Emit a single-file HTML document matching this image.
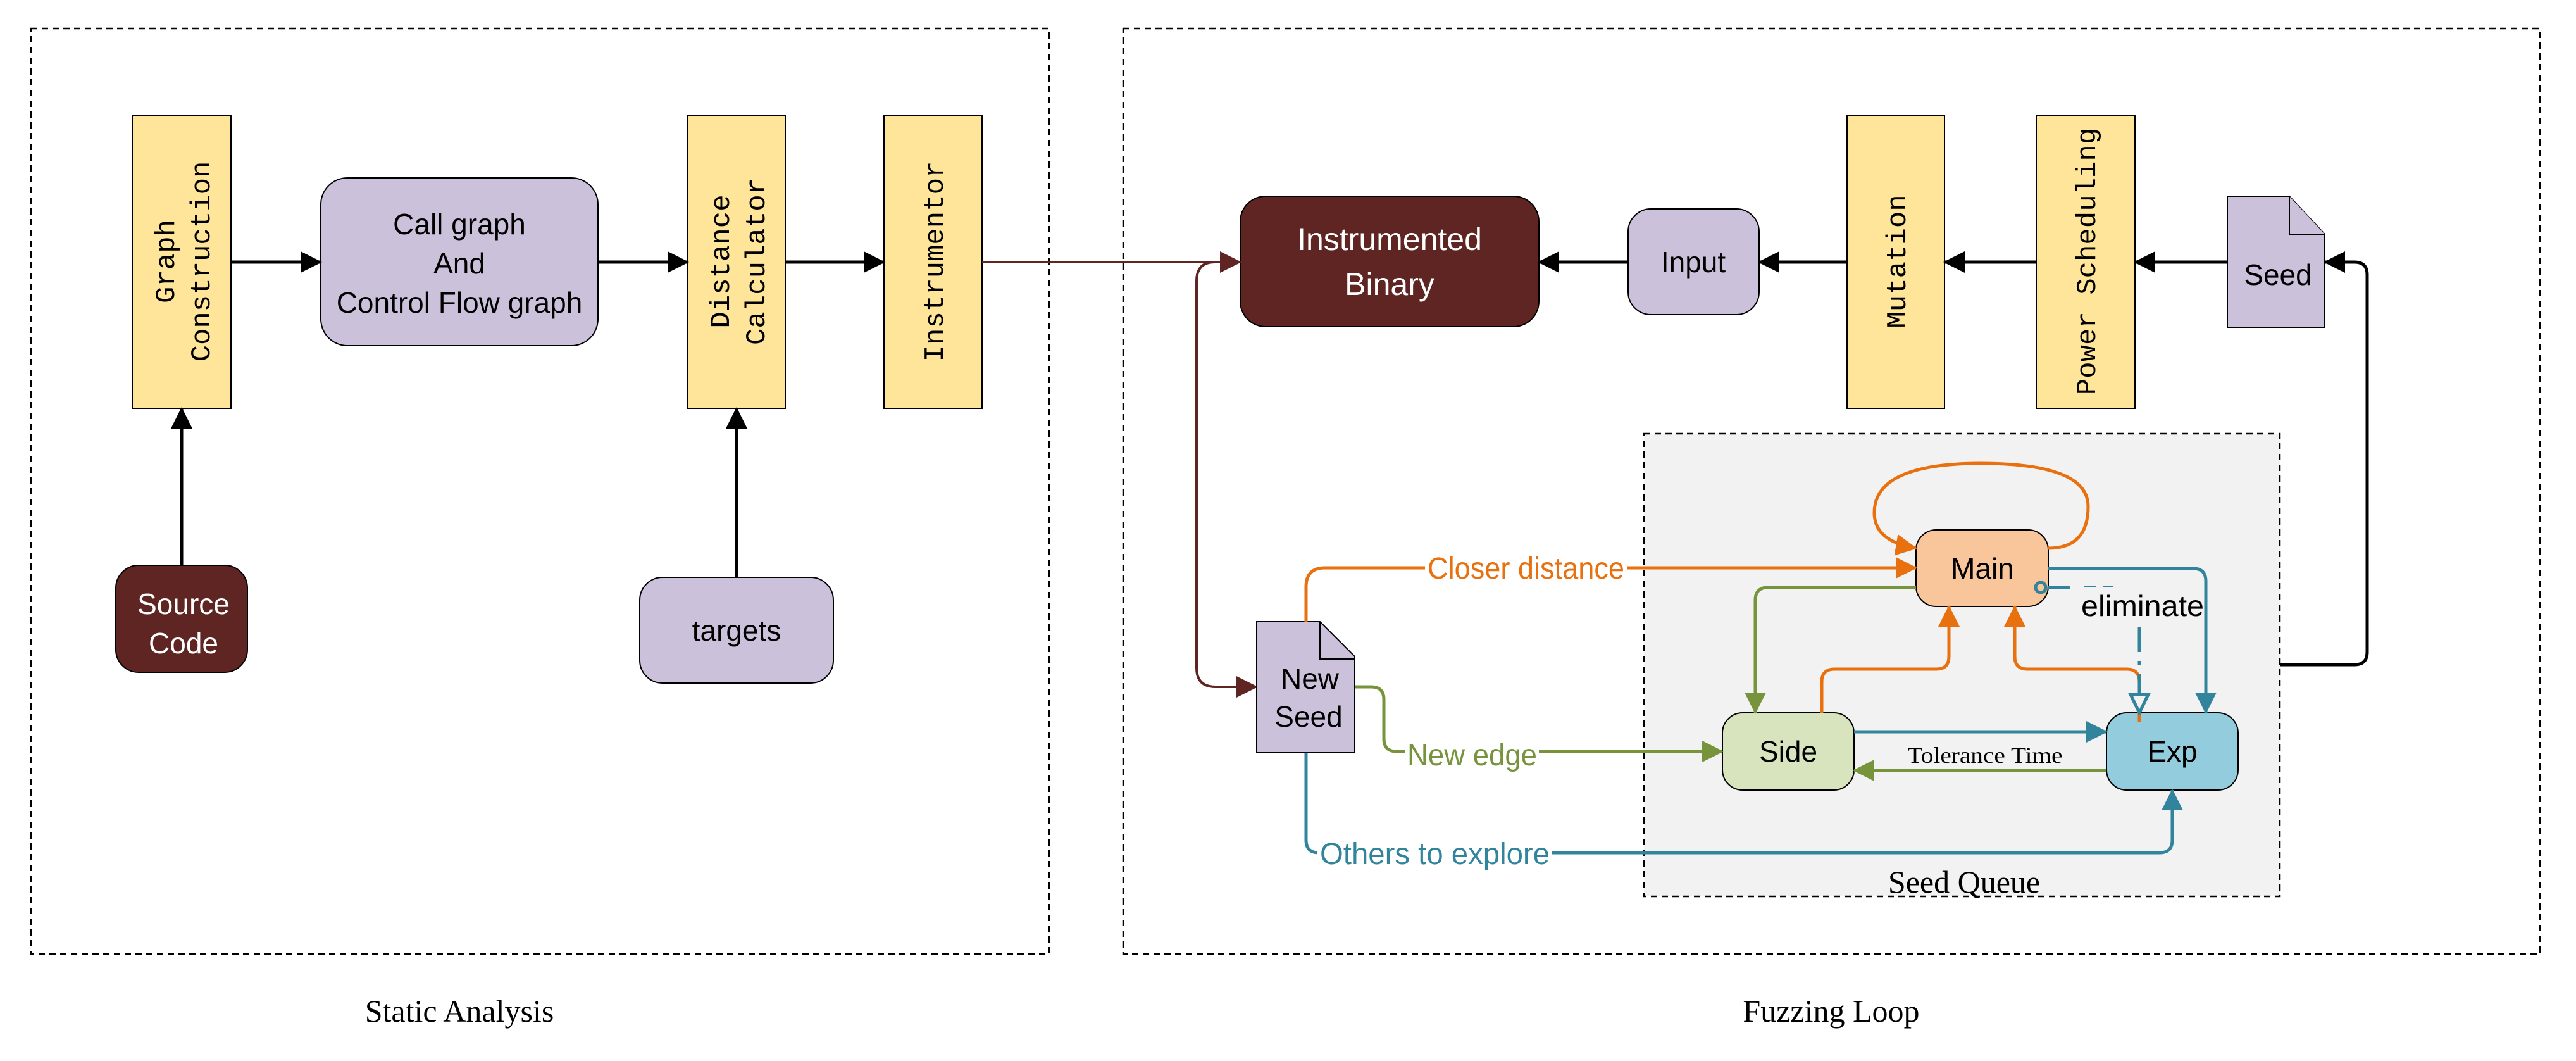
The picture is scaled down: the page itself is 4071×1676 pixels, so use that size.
<!DOCTYPE html>
<html><head><meta charset="utf-8"><style>
html,body{margin:0;padding:0;background:#fff;}
svg{display:block;}
.c{font-family:"Liberation Sans Narrow","Liberation Sans",sans-serif;}
.m{font-family:"Liberation Mono",monospace;font-size:44px;}
.s{font-family:"Liberation Serif",serif;}
</style></head><body>
<svg width="4071" height="1676" viewBox="0 0 4071 1676" xmlns="http://www.w3.org/2000/svg">
<defs>
<marker id="ak" markerUnits="userSpaceOnUse" markerWidth="34" markerHeight="34" refX="32" refY="17" orient="auto"><path d="M0,0 L34,17 L0,34 Z" fill="#000"/></marker>
<marker id="ab" markerUnits="userSpaceOnUse" markerWidth="34" markerHeight="34" refX="32" refY="17" orient="auto"><path d="M0,0 L34,17 L0,34 Z" fill="#5f2522"/></marker>
<marker id="ao" markerUnits="userSpaceOnUse" markerWidth="34" markerHeight="34" refX="32" refY="17" orient="auto"><path d="M0,0 L34,17 L0,34 Z" fill="#e8700f"/></marker>
<marker id="ag" markerUnits="userSpaceOnUse" markerWidth="34" markerHeight="34" refX="32" refY="17" orient="auto"><path d="M0,0 L34,17 L0,34 Z" fill="#77933c"/></marker>
<marker id="at" markerUnits="userSpaceOnUse" markerWidth="34" markerHeight="34" refX="32" refY="17" orient="auto"><path d="M0,0 L34,17 L0,34 Z" fill="#31849b"/></marker>
<marker id="ah" markerUnits="userSpaceOnUse" markerWidth="36" markerHeight="36" refX="32" refY="18" orient="auto"><path d="M3,4 L32,18 L3,32 Z" fill="#f2f2f2" stroke="#31849b" stroke-width="5"/></marker>
</defs>

<rect x="49" y="45" width="1609" height="1462" fill="none" stroke="#000" stroke-width="2.5" stroke-dasharray="10,7"/>
<rect x="1775" y="45" width="2239" height="1462" fill="none" stroke="#000" stroke-width="2.5" stroke-dasharray="10,7"/>
<rect x="2598" y="685" width="1005" height="731" fill="#f2f2f2" stroke="#000" stroke-width="2.5" stroke-dasharray="10,7"/>

<text class="s" x="726" y="1614" font-size="50" text-anchor="middle">Static Analysis</text>
<text class="s" x="2894" y="1614" font-size="50" text-anchor="middle">Fuzzing Loop</text>
<text class="s" x="3104" y="1410" font-size="50" text-anchor="middle">Seed Queue</text>

<rect x="209" y="182" width="156" height="463" fill="#fee59a" stroke="#000" stroke-width="2"/>
<text class="m" transform="translate(287,413) rotate(-90)" text-anchor="middle" fill="#000"><tspan x="0" y="-12">Graph</tspan><tspan x="0" y="44">Construction</tspan></text>
<rect x="507" y="281" width="438" height="265" rx="42" fill="#ccc1da" stroke="#000" stroke-width="2"/>
<text class="c" font-size="46" text-anchor="middle" x="726"><tspan x="726" y="370">Call graph</tspan><tspan x="726" y="432">And</tspan><tspan x="726" y="494">Control Flow graph</tspan></text>
<rect x="1087" y="182" width="154" height="463" fill="#fee59a" stroke="#000" stroke-width="2"/>
<text class="m" transform="translate(1164,413) rotate(-90)" text-anchor="middle"><tspan x="0" y="-12">Distance</tspan><tspan x="0" y="44">Calculator</tspan></text>
<rect x="1397" y="182" width="155" height="463" fill="#fee59a" stroke="#000" stroke-width="2"/>
<text class="m" transform="translate(1475,413) rotate(-90)" text-anchor="middle" y="15">Instrumentor</text>
<rect x="183" y="893" width="208" height="169" rx="36" fill="#5f2522" stroke="#000" stroke-width="2"/>
<text class="c" font-size="46" fill="#fff" text-anchor="middle"><tspan x="290" y="970">Source</tspan><tspan x="290" y="1032">Code</tspan></text>
<rect x="1011" y="912" width="306" height="167" rx="36" fill="#ccc1da" stroke="#000" stroke-width="2"/>
<text class="c" font-size="46" text-anchor="middle" x="1164" y="1012">targets</text>

<g stroke="#000" stroke-width="5" fill="none">
<line x1="365" y1="414" x2="507" y2="414" marker-end="url(#ak)"/>
<line x1="945" y1="414" x2="1087" y2="414" marker-end="url(#ak)"/>
<line x1="1241" y1="414" x2="1397" y2="414" marker-end="url(#ak)"/>
<line x1="287" y1="893" x2="287" y2="645" marker-end="url(#ak)"/>
<line x1="1164" y1="912" x2="1164" y2="645" marker-end="url(#ak)"/>
</g>

<rect x="1960" y="310" width="472" height="206" rx="40" fill="#5f2522" stroke="#000" stroke-width="2"/>
<text class="c" font-size="50" fill="#fff" text-anchor="middle"><tspan x="2196" y="395">Instrumented</tspan><tspan x="2196" y="466">Binary</tspan></text>
<rect x="2573" y="330" width="207" height="167" rx="36" fill="#ccc1da" stroke="#000" stroke-width="2"/>
<text class="c" font-size="46" text-anchor="middle" x="2676" y="430">Input</text>
<rect x="2919" y="182" width="154" height="463" fill="#fee59a" stroke="#000" stroke-width="2"/>
<text class="m" transform="translate(2996,413) rotate(-90)" text-anchor="middle" y="15">Mutation</text>
<rect x="3218" y="182" width="156" height="463" fill="#fee59a" stroke="#000" stroke-width="2"/>
<text class="m" transform="translate(3296,413) rotate(-90)" text-anchor="middle" y="15">Power Scheduling</text>
<path d="M3520,310 L3618,310 L3674,370 L3674,517 L3520,517 Z" fill="#ccc1da" stroke="#000" stroke-width="2"/>
<path d="M3618,310 L3618,370 L3674,370" fill="#ccc1da" stroke="#000" stroke-width="2"/>
<text class="c" font-size="46" text-anchor="middle" x="3600" y="450">Seed</text>

<g stroke="#000" stroke-width="5" fill="none">
<line x1="2573" y1="414" x2="2432" y2="414" marker-end="url(#ak)"/>
<line x1="2919" y1="414" x2="2780" y2="414" marker-end="url(#ak)"/>
<line x1="3218" y1="414" x2="3073" y2="414" marker-end="url(#ak)"/>
<line x1="3520" y1="414" x2="3374" y2="414" marker-end="url(#ak)"/>
<path d="M3603,1050 L3721,1050 Q3741,1050 3741,1030 L3741,434 Q3741,414 3721,414 L3674,414" marker-end="url(#ak)"/>
</g>

<g stroke="#5f2522" stroke-width="4" fill="none">
<line x1="1552" y1="414" x2="1960" y2="414" marker-end="url(#ab)"/>
<path d="M1920,414 Q1891,414 1891,444 L1891,1055 Q1891,1085 1921,1085 L1986,1085" marker-end="url(#ab)"/>
</g>

<path d="M1986,982 L2086,982 L2141,1037 L2141,1189 L1986,1189 Z" fill="#ccc1da" stroke="#000" stroke-width="2"/>
<path d="M2086,982 L2086,1041 L2141,1041" fill="none" stroke="#000" stroke-width="2"/>
<text class="c" font-size="46" text-anchor="middle"><tspan x="2070" y="1088">New</tspan><tspan x="2068" y="1148">Seed</tspan></text>

<rect x="3028" y="837" width="209" height="121" rx="32" fill="#f9c59b" stroke="#000" stroke-width="2"/>
<text class="c" font-size="46" text-anchor="middle" x="3133" y="914">Main</text>
<rect x="2722" y="1126" width="208" height="122" rx="32" fill="#d7e4bd" stroke="#000" stroke-width="2"/>
<text class="c" font-size="46" text-anchor="middle" x="2826" y="1203">Side</text>
<rect x="3329" y="1126" width="208" height="122" rx="32" fill="#93cddd" stroke="#000" stroke-width="2"/>
<text class="c" font-size="46" text-anchor="middle" x="3433" y="1203">Exp</text>

<g stroke="#e8700f" stroke-width="5" fill="none">
<path d="M2064,982 L2064,927 Q2064,897 2094,897 L3028,897" marker-end="url(#ao)"/>
<path d="M3237,866 Q3300,866 3300,800 Q3300,732 3130,732 Q2962,732 2962,810 Q2962,855 3028,866" marker-end="url(#ao)"/>
<path d="M2879,1126 L2879,1077 Q2879,1057 2899,1057 L3060,1057 Q3080,1057 3080,1037 L3080,958" marker-end="url(#ao)"/>
<path d="M3381,1140 L3381,1077 Q3381,1057 3361,1057 L3204,1057 Q3184,1057 3184,1037 L3184,958" marker-end="url(#ao)"/>
</g>
<rect x="2252" y="870" width="320" height="54" fill="#fff"/>
<text class="c" font-size="48" fill="#e8700f" x="2256" y="914" textLength="311" lengthAdjust="spacingAndGlyphs">Closer distance</text>

<g stroke="#77933c" stroke-width="5" fill="none">
<path d="M2141,1085 L2167,1085 Q2187,1085 2187,1105 L2187,1167 Q2187,1187 2207,1187 L2722,1187" marker-end="url(#ag)"/>
<path d="M3028,928 L2794,928 Q2774,928 2774,948 L2774,1126" marker-end="url(#ag)"/>
<line x1="3329" y1="1217" x2="2930" y2="1217" marker-end="url(#ag)"/>
</g>
<rect x="2220" y="1160" width="212" height="60" fill="#fff"/>
<text class="c" font-size="48" fill="#77933c" x="2224" y="1209" textLength="205" lengthAdjust="spacingAndGlyphs">New edge</text>

<g stroke="#31849b" stroke-width="5" fill="none">
<path d="M2064,1189 L2064,1327 Q2064,1347 2084,1347 L3413,1347 Q3433,1347 3433,1327 L3433,1248" marker-end="url(#at)"/>
<path d="M3237,898 L3466,898 Q3486,898 3486,918 L3486,1126" marker-end="url(#at)"/>
<line x1="2930" y1="1156" x2="3329" y2="1156" marker-end="url(#at)"/>
<line x1="3237" y1="928" x2="3272" y2="928"/>
<line x1="3293" y1="927" x2="3340" y2="927" stroke-width="2" stroke-dasharray="20,10"/>
<path d="M3381,990 L3381,1126" stroke-dasharray="40,14,6,14" marker-end="url(#ah)"/>
<circle cx="3225" cy="928" r="8" fill="#f9c59b"/>
</g>
<rect x="2082" y="1320" width="370" height="58" fill="#fff"/>
<text class="c" font-size="48" fill="#31849b" x="2086" y="1365" textLength="363" lengthAdjust="spacingAndGlyphs">Others to explore</text>

<text class="c" font-size="46" x="3386" y="973" text-anchor="middle" textLength="194" lengthAdjust="spacingAndGlyphs">eliminate</text>
<text class="s" font-size="36" x="3137" y="1205" text-anchor="middle" textLength="245" lengthAdjust="spacingAndGlyphs">Tolerance Time</text>
</svg>
</body></html>
